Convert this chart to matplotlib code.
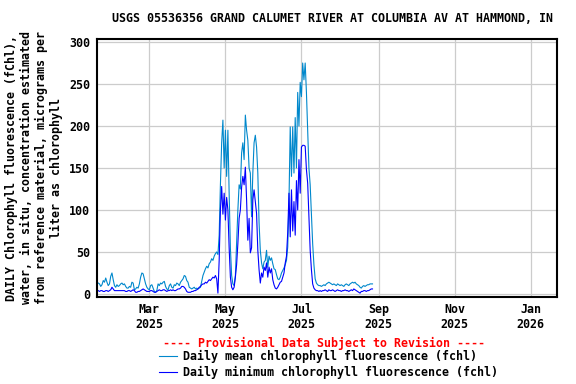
"""
USGS daily chlorophyll fluorescence, Grand Calumet River at Columbia Av, Hammond IN.
Daily mean and daily minimum, provisional data, Jan - Aug 2025.
"""

import numpy as np
import pandas as pd
import matplotlib
matplotlib.use("Agg")
import matplotlib.pyplot as plt
import matplotlib.dates as mdates

# Daily values (micrograms per liter), starting 2025-01-19
start_date = "2025-01-19"

mean_fchl = [
    13, 12, 9, 11, 16, 14, 19, 14, 10, 12,
    21, 25, 17, 10, 8, 11, 9, 10, 12, 13,
    11, 12, 9, 7, 7, 9, 8, 14, 13, 5,
    6, 8, 7, 12, 20, 25, 24, 18, 12, 8,
    6, 5, 10, 11, 7, 3, 2, 4, 12, 10,
    13, 12, 14, 15, 9, 6, 5, 10, 12, 8,
    7, 11, 10, 13, 12, 10, 14, 16, 18, 22,
    21, 16, 14, 8, 7, 6, 7, 8, 6, 7,
    6, 7, 8, 15, 22, 26, 30, 33, 31, 36,
    38, 42, 40, 45, 48, 50, 47, 70, 130, 180,
    207, 150, 195, 140, 195, 120, 55, 22, 12, 10,
    22, 60, 100, 130, 125, 168, 180, 160, 213, 195,
    183, 150, 144, 92, 144, 180, 189, 175, 144, 85,
    52, 37, 30, 38, 40, 52, 32, 45, 40, 43,
    36, 30, 29, 23, 18, 17, 20, 25, 28, 31,
    35, 40, 56, 110, 199, 140, 199, 144, 210, 150,
    240, 200, 252, 235, 275, 255, 275, 240, 195, 150,
    130, 96, 60, 35, 18, 13, 11, 10, 10, 9,
    10, 11, 10, 12, 13, 14, 13, 12, 11, 12,
    11, 10, 12, 11, 10, 11, 10, 9, 11, 12,
    11, 10, 12, 13, 14, 13, 14, 12, 11, 10,
    8, 7, 9, 10, 9, 10, 11, 11, 12, 12,
    12,
]

min_fchl = [
    4, 3, 4, 4, 3, 3, 4, 4, 3, 4,
    5, 8, 6, 4, 4, 4, 4, 4, 4, 4,
    4, 4, 3, 3, 4, 4, 3, 4, 5, 4,
    2, 2, 3, 3, 4, 5, 6, 5, 4, 3,
    3, 3, 4, 4, 3, 2, 2, 3, 4, 5,
    4, 4, 5, 5, 4, 3, 4, 4, 5, 4,
    5, 4, 4, 5, 6, 6, 7, 9, 9, 8,
    6, 3, 2, 2, 2, 3, 3, 4, 4, 5,
    6, 8, 9, 11, 12, 12, 14, 13, 15, 17,
    16, 18, 20, 19, 22, 18, 1, 40, 100, 128,
    95, 120, 88, 115, 100, 55, 20, 8, 5, 8,
    20, 35, 60, 90, 100, 127, 140, 130, 151, 112,
    64, 90, 49, 55, 112, 124, 110, 96, 52, 29,
    13, 25, 20, 32, 28, 37, 20, 32, 25, 30,
    17, 11, 7, 6, 8, 11, 14, 15, 20, 25,
    37, 45, 73, 120, 68, 124, 75, 110, 70, 135,
    100, 160, 120, 175, 177, 177, 176, 148, 132, 92,
    52, 29, 12, 7, 5, 4, 4, 3, 4, 3,
    4, 4, 5, 4, 3, 5, 4, 4, 5, 4,
    3, 4, 5, 4, 4, 3, 4, 4, 5, 4,
    4, 3, 4, 5, 4, 6, 5, 4, 3, 2,
    1, 3, 3, 4, 4, 3, 4, 4, 5, 6,
    6,
]

y_ticks = [0, 50, 100, 150, 200, 250, 300]
x_tick_dates = ["2025-03-01", "2025-05-01", "2025-07-01",
                "2025-09-01", "2025-11-01", "2026-01-01"]

dates = pd.date_range(start_date, periods=len(mean_fchl), freq="D")

FONT = "DejaVu Sans Mono"
FS = 8.4
plt.rcParams["font.family"] = FONT
plt.rcParams["font.weight"] = "bold"
plt.rcParams["font.size"] = FS

fig = plt.figure(figsize=(5.76, 3.84), dpi=100)
ax = fig.add_axes([97 / 576, 1 - 297 / 384, 460 / 576, 258 / 384])

l_mean, = ax.plot(dates, mean_fchl, color="#0088cc", lw=0.8,
                  label="Daily mean chlorophyll fluorescence (fchl)")
l_min, = ax.plot(dates, min_fchl, color="#0000ff", lw=0.8,
                 label="Daily minimum chlorophyll fluorescence (fchl)")

ax.set_xlim(pd.Timestamp("2025-01-18"), pd.Timestamp("2026-01-22"))
ax.set_ylim(-3.6, 303.6)
ax.set_yticks(y_ticks)
ax.set_xticks(pd.to_datetime(x_tick_dates))
ax.xaxis.set_major_formatter(mdates.DateFormatter("%b\n%Y"))
ax.tick_params(axis="both", length=0, labelsize=FS)
ax.tick_params(axis="y", pad=5)
ax.tick_params(axis="x", pad=4)
ax.grid(True, color="#cccccc", lw=0.9)
ax.set_axisbelow(True)
for sp in ax.spines.values():
    sp.set_linewidth(1.5)
    sp.set_color("black")

# Title and y label as figure text
fig.text(332 / 576, 1 - 19 / 384,
         "USGS 05536356 GRAND CALUMET RIVER AT COLUMBIA AV AT HAMMOND, IN",
         ha="center", va="center", fontsize=FS, fontweight="bold")
fig.text(34 / 576, 1 - 168 / 384,
         "DAILY Chlorophyll fluorescence (fChl),\n"
         "water, in situ, concentration estimated\n"
         "from reference material, micrograms per\n"
         "liter as chlorophyll",
         rotation=90, ha="center", va="center", multialignment="center",
         fontsize=FS, fontweight="bold", linespacing=1.2)

fig.text(324 / 576, 1 - 343 / 384,
         "---- Provisional Data Subject to Revision ----",
         ha="center", va="center", color="red", fontsize=FS, fontweight="bold")

fig.legend(handles=[l_mean, l_min], loc="upper left",
           bbox_to_anchor=(159 / 576, 1 - 350 / 384),
           frameon=False, borderpad=0, borderaxespad=0,
           handlelength=1.55, handletextpad=0.5, labelspacing=0.28,
           prop={"family": FONT, "weight": "bold", "size": FS})

plt.savefig("out.png", dpi=100)
